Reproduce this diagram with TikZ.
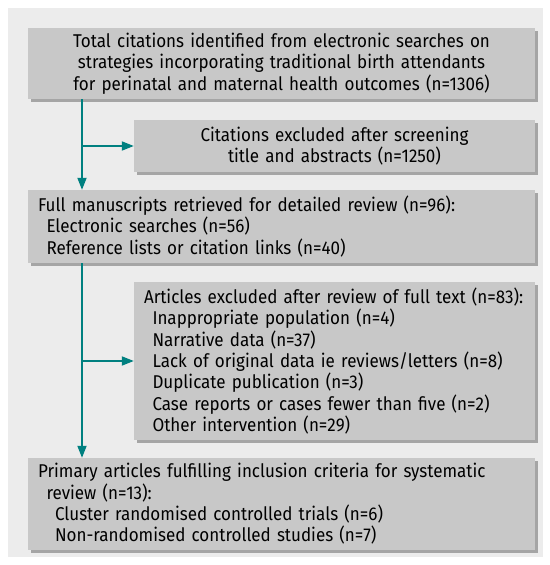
\documentclass[tikz,border=0pt]{standalone}
\usepackage{fontspec}
\setmainfont[FakeStretch=0.92]{Fira Sans}
\usetikzlibrary{arrows.meta,shadows}
\definecolor{panelc}{RGB}{236,236,236}
\definecolor{boxc}{RGB}{200,200,200}
\definecolor{shadowc}{RGB}{165,165,165}
\definecolor{tealc}{RGB}{0,128,128}
\newcommand{\myind}{\hspace*{8.5pt}}
\begin{document}
\begin{tikzpicture}[x=1pt,y=-1pt,
  box/.style={fill=boxc, inner xsep=10pt, inner ysep=0pt,
    font=\fontsize{18.5}{21.4}\selectfont,
    drop shadow={shadow xshift=3pt,shadow yshift=-3pt,fill=shadowc,opacity=1}},
  wide/.style={box, text width=487pt},
  narrow/.style={box, text width=381pt},
  conn/.style={draw=tealc, line width=1.8pt, -{Triangle[length=12pt,width=9pt]}}]
\useasboundingbox (0,0) rectangle (549,565);
\fill[panelc] (8,8) rectangle (543,557);
\node[wide, align=center, minimum height=71pt] (b1) at (281.5,63.5)
  {Total citations identified from electronic searches on\\
   strategies incorporating traditional birth attendants\\
   for perinatal and maternal health outcomes (n=1306)};
\node[narrow, align=center, minimum height=52pt] (b2) at (334.5,146)
  {Citations excluded after screening\\ title and abstracts (n=1250)};
\node[wide, align=left, minimum height=73pt] (b3) at (281.5,226.5)
  {Full manuscripts retrieved for detailed review (n=96):\\
   \myind Electronic searches (n=56)\\
   \myind Reference lists or citation links (n=40)};
\node[narrow, align=left, minimum height=158pt] (b4) at (334.5,361)
  {Articles excluded after review of full text (n=83):\\
   \myind Inappropriate population (n=4)\\
   \myind Narrative data (n=37)\\
   \myind Lack of original data ie reviews/letters (n=8)\\
   \myind Duplicate publication (n=3)\\
   \myind Case reports or cases fewer than five (n=2)\\
   \myind Other intervention (n=29)};
\node[wide, align=left, minimum height=92pt] (b5) at (281.5,504)
  {Primary articles fulfilling inclusion criteria for systematic\\
   \myind review (n=13):\\
   \myind\myind Cluster randomised controlled trials (n=6)\\
   \myind\myind Non-randomised controlled studies (n=7)};
\coordinate (tx) at (82,0);
\draw[conn] (tx |- b1.south) -- (tx |- b3.north);
\draw[conn] (tx |- b2.west) -- (b2.west);
\draw[conn] (tx |- b3.south) -- (tx |- b5.north);
\draw[conn] (tx |- b4.west) -- (b4.west);
\end{tikzpicture}
\end{document}
